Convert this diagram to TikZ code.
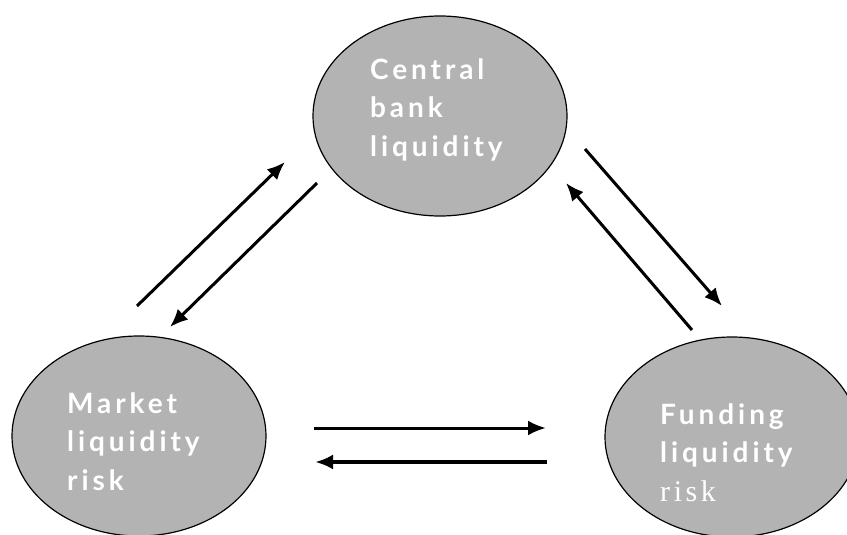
\documentclass[tikz,border=0pt]{standalone}
\usepackage{fontspec}
\setmainfont{Lato}
\newfontfamily\blobfont[LetterSpace=14]{Lato Bold}
\newfontfamily\riskfont[LetterSpace=12]{Liberation Serif}
\definecolor{blobgray}{HTML}{B3B3B3}
\usetikzlibrary{shapes, arrows.meta}

\begin{document}
\begin{tikzpicture}[x = 1pt, y = -1pt,
  blob/.style = {ellipse, draw = black, line width = 1.2pt, fill = blobgray, minimum width = 254pt, minimum height = 200pt, inner sep = 0pt},
  blobtext/.style = {anchor = north west, inner sep = 0pt, align = left, text = white, font = \blobfont\fontsize{28}{38.5}\selectfont},
  flow/.style = {-{Latex[length = 18pt, width = 15pt]}, line width = 3pt}]
\useasboundingbox (0,0) rectangle (847,535);
\clip (0,0) rectangle (847,535);

% ellipses
\node[blob] (cb) at (440,116) {};
\node[blob] (mk) at (139,436) {};
\node[blob] (fd) at (732,437) {};

\node[blobtext] (cb-text) at (370,58) {Central\\bank\\liquidity};
\node[blobtext] (mk-text) at (67,392) {Market\\liquidity\\risk};
\node[blobtext] (fd-text) at (660,403) {Funding\\liquidity\\{\riskfont\fontsize{30}{38.5}\selectfont risk}};

% arrow ends
\coordinate (mk-cb-a) at (137,306);
\coordinate (mk-cb-b) at (285,162);
\coordinate (cb-mk-a) at (317,183);
\coordinate (cb-mk-b) at (170,327);
\coordinate (cb-fd-a) at (585,149);
\coordinate (cb-fd-b) at (722,306);
\coordinate (fd-cb-a) at (692,330);
\coordinate (fd-cb-b) at (566,183);
\coordinate (mk-fd-a) at (314,428);
\coordinate (mk-fd-b) at (546,428);
\coordinate (fd-mk-a) at (547,462);
\coordinate (fd-mk-b) at (315,462);

\draw[flow] (mk-cb-a) -- (mk-cb-b);
\draw[flow] (cb-mk-a) -- (cb-mk-b);
\draw[flow] (cb-fd-a) -- (cb-fd-b);
\draw[flow] (fd-cb-a) -- (fd-cb-b);
\draw[flow] (mk-fd-a) -- (mk-fd-b);
\draw[flow, line width = 4.5pt] (fd-mk-a) -- (fd-mk-b);
\end{tikzpicture}
\end{document}
